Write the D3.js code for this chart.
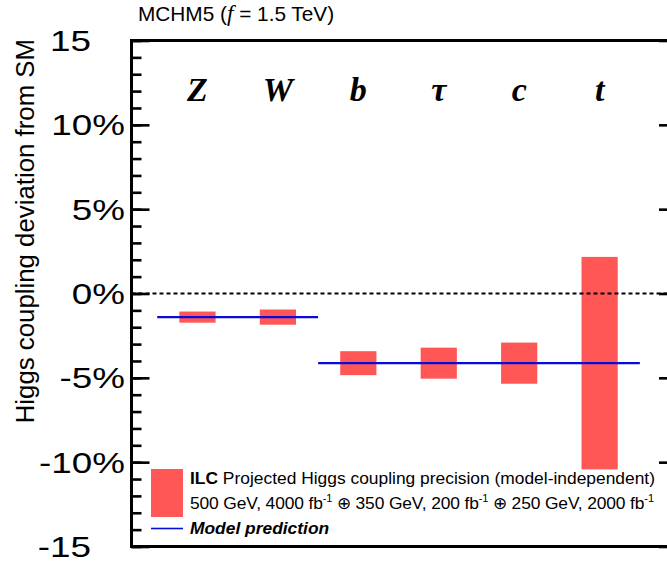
<!DOCTYPE html>
<html>
<head>
<meta charset="utf-8">
<script src="https://cdn.jsdelivr.net/npm/d3@7"></script>
<style>
  html, body { margin: 0; padding: 0; background: #fff; }
  svg { display: block; }
  text { font-family: "Liberation Sans", Arial, Helvetica, sans-serif; }
</style>
</head>
<body>
<svg id="chart" width="667" height="565"></svg>
<script>
// Higgs couplings and their MCHM5 predictions (percent deviation from SM)
const couplings = ["Z", "W", "b", "τ", "c", "t"];
const modelPrediction = [-1.4, -1.4, -4.13, -4.13, -4.13, -4.13];
const ilcPrecision = [0.33, 0.45, 0.71, 0.92, 1.22, 6.3];

const majorTicks = [-15, -10, -5, 0, 5, 10, 15];
const majorTickLabels = ["-15", "-10%", "-5%", "0%", "5%", "10%", "15"];
const minorTicks = d3.range(-15, 16, 1);

const titleText = ["MCHM5 (", "f", " = 1.5 TeV)"];
const yTitle = "Higgs coupling deviation from SM";

const svg = d3.select("#chart");
const W = 667, H = 565;
svg.append("rect").attr("width", W).attr("height", H).attr("fill", "#fff");

const frame = { left: 131.5, right: 677, top: 40.5, bottom: 546.5 };

const y = d3.scaleLinear().domain([-15, 15]).range([frame.bottom, frame.top]);
const x = d3.scaleLinear().domain([-0.82, 5.962]).range([frame.left, frame.right]);
const halfBar = 0.225;

const red = "#ff5656";
const blue = "#0a0ad8";

// precision bars, centred on the model prediction
svg.append("g").selectAll("rect")
  .data(couplings)
  .join("rect")
  .attr("x", (d, i) => x(i - halfBar))
  .attr("width", (d, i) => x(i + halfBar) - x(i - halfBar))
  .attr("y", (d, i) => y(modelPrediction[i] + ilcPrecision[i]))
  .attr("height", (d, i) => y(modelPrediction[i] - ilcPrecision[i]) - y(modelPrediction[i] + ilcPrecision[i]))
  .attr("fill", red);

// SM reference line
svg.append("line")
  .attr("x1", frame.left).attr("x2", frame.right)
  .attr("y1", y(0)).attr("y2", y(0))
  .attr("stroke", "#000").attr("stroke-width", 2)
  .attr("stroke-dasharray", "4,3");

// model prediction: one segment per run of equal predictions
const segments = [];
modelPrediction.forEach((v, i) => {
  const last = segments[segments.length - 1];
  if (last && last.value === v) last.end = i;
  else segments.push({ start: i, end: i, value: v });
});
svg.append("g").selectAll("line")
  .data(segments)
  .join("line")
  .attr("x1", d => x(d.start - 0.5))
  .attr("x2", d => x(d.end + 0.5))
  .attr("y1", d => y(d.value))
  .attr("y2", d => y(d.value))
  .attr("stroke", blue).attr("stroke-width", 2.2);

// axes ticks (inside the frame, both sides)
function tickAxis(axisFn, xpos, values, size) {
  const g = svg.append("g")
    .attr("transform", `translate(${xpos},0)`)
    .call(axisFn(y).tickValues(values).tickSize(size).tickFormat(""));
  g.select(".domain").remove();
  g.selectAll(".tick line").attr("stroke", "#000").attr("stroke-width", 2.6);
}
tickAxis(d3.axisRight, frame.left, minorTicks, 10);
tickAxis(d3.axisRight, frame.left, majorTicks, 18);
tickAxis(d3.axisLeft, frame.right, minorTicks, 10);
tickAxis(d3.axisLeft, frame.right, majorTicks, 18);

// frame
svg.append("rect")
  .attr("x", frame.left).attr("y", frame.top)
  .attr("width", frame.right - frame.left).attr("height", frame.bottom - frame.top)
  .attr("fill", "none").attr("stroke", "#000").attr("stroke-width", 3);

// y tick labels
const labelG = svg.append("g");
majorTicks.forEach((v, i) => {
  const lab = majorTickLabels[i];
  const endX = lab.endsWith("%") ? 125 : 91;
  labelG.append("g")
    .attr("transform", `translate(${endX},${y(v) + 10.5}) scale(1.27,1)`)
    .append("text")
    .attr("text-anchor", "end")
    .attr("font-size", 29)
    .attr("fill", "#000")
    .text(lab);
});

// coupling labels
svg.append("g").selectAll("text")
  .data(couplings)
  .join("text")
  .attr("x", (d, i) => x(i))
  .attr("y", 101)
  .attr("text-anchor", "middle")
  .style("font-family", "'Liberation Serif', 'Times New Roman', serif")
  .style("font-style", "italic")
  .style("font-weight", "bold")
  .attr("font-size", 34)
  .text(d => d);

// y axis title
svg.append("text")
  .attr("transform", "translate(34,39) rotate(-90)")
  .attr("text-anchor", "end")
  .attr("font-size", 25.8)
  .text(yTitle);

// plot title
const title = svg.append("text").attr("x", 138).attr("y", 20.5).attr("font-size", 20.8);
title.append("tspan").text(titleText[0]);
title.append("tspan")
  .style("font-family", "'Liberation Serif', 'Times New Roman', serif")
  .style("font-style", "italic")
  .attr("font-size", 23)
  .text(titleText[1]);
title.append("tspan").text(titleText[2]);

// legend
const leg = svg.append("g");
leg.append("rect").attr("x", 151).attr("y", 469).attr("width", 32).attr("height", 48).attr("fill", red);
leg.append("line").attr("x1", 151).attr("x2", 183).attr("y1", 528.5).attr("y2", 528.5)
  .attr("stroke", blue).attr("stroke-width", 1.6);

const fs = 17.4;
const l1 = leg.append("text").attr("x", 190).attr("y", 484).attr("font-size", fs);
l1.append("tspan").attr("font-weight", "bold").text("ILC");
l1.append("tspan").text(" Projected Higgs coupling precision (model-independent)");

const energies = ["500 GeV, 4000 fb", "350 GeV, 200 fb", "250 GeV, 2000 fb"];
const l2 = leg.append("text").attr("x", 190).attr("y", 509).attr("font-size", fs)
  .attr("textLength", 464).attr("lengthAdjust", "spacing");
energies.forEach((e, i) => {
  l2.append("tspan").text((i > 0 ? " " : "") + e);
  l2.append("tspan").attr("font-size", 11).attr("dy", -7).text("-1");
  l2.append("tspan").attr("dy", 7).text(i < energies.length - 1 ? " ⊕" : "");
});

leg.append("text").attr("x", 190).attr("y", 534).attr("font-size", fs)
  .attr("font-weight", "bold").attr("font-style", "italic")
  .text("Model prediction");
</script>
</body>
</html>
